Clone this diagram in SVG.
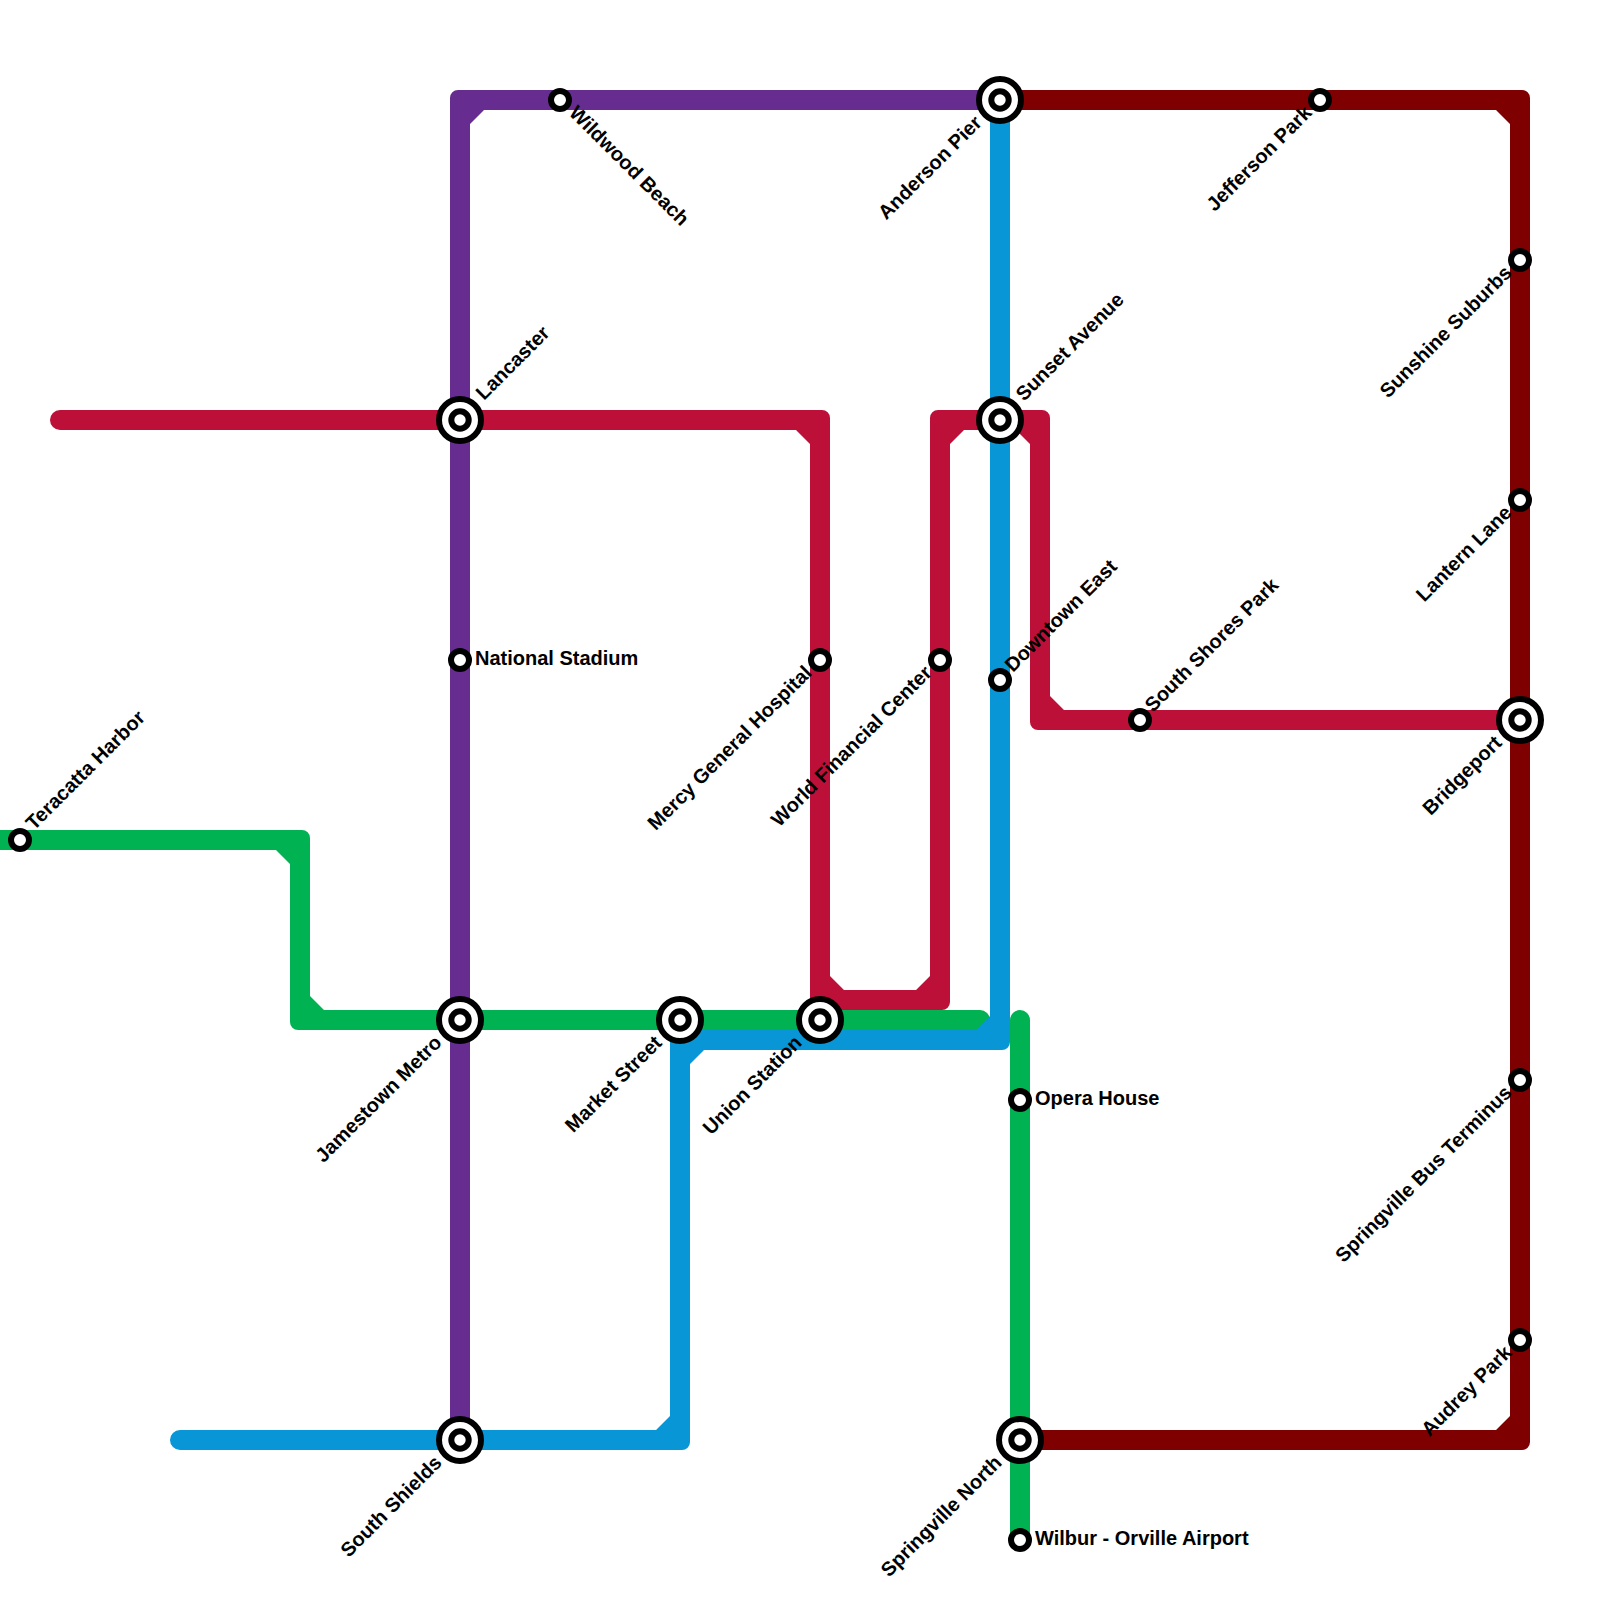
<svg xmlns="http://www.w3.org/2000/svg" width="1600" height="1600" viewBox="0 0 1600 1600">
<style>
text{font-family:"Liberation Sans",Arial,sans-serif;font-weight:700;font-size:20px;fill:#000}
.e{text-anchor:end}
.big,.in,.sm{fill:#fff;stroke:#000;stroke-width:6}
.big{r:21px}.in{r:8.7px}.sm{r:9px}
</style>
<rect width="1600" height="1600" fill="#fff"/>
<g id="connectors">
<path id="line-red" fill="#bd1038" d="M60 410H822A8 8 0 0 1 830 418V976L844 990H916L930 976V418A8 8 0 0 1 938 410H1042A8 8 0 0 1 1050 418V696L1064 710H1530V730H1038A8 8 0 0 1 1030 722V444L1016 430H964L950 444V1002A8 8 0 0 1 942 1010H810V444L796 430H60A10 10 0 0 1 60 410Z"/>
<path id="line-purple" fill="#662c90" d="M1000 90H458A8 8 0 0 0 450 98V1450H470V124L484 110H1000Z"/>
<path id="line-green" fill="#00b251" d="M0 830H302A8 8 0 0 1 310 838V996L324 1010H980A10 10 0 0 1 980 1030H298A8 8 0 0 1 290 1022V864L276 850H0Z"/>
<path id="line-green-2" fill="#00b251" d="M1010 1020A10 10 0 0 1 1030 1020V1540H1010Z"/>
<path id="line-maroon" fill="#7f0000" d="M1000 90H1522A8 8 0 0 1 1530 98V1442A8 8 0 0 1 1522 1450H1020V1430H1496L1510 1416V124L1496 110H1000Z"/>
<path id="line-blue" fill="#0896d7" d="M180 1430H656L670 1416V1038A8 8 0 0 1 678 1030H976L990 1016V100H1010V1042A8 8 0 0 1 1002 1050H704L690 1064V1442A8 8 0 0 1 682 1450H180A10 10 0 0 1 180 1430Z"/>
</g>
<g id="lancaster"><circle class="big" cx="460" cy="420"/><circle class="in" cx="460" cy="420"/><text transform="translate(484 401) rotate(-45)">Lancaster</text></g>
<g id="anderson-pier"><circle class="big" cx="1000" cy="100"/><circle class="in" cx="1000" cy="100"/><text class="e" transform="translate(978 119) rotate(-45)" dy="7">Anderson Pier</text></g>
<g id="sunset-avenue"><circle class="big" cx="1000" cy="420"/><circle class="in" cx="1000" cy="420"/><text transform="translate(1024 402) rotate(-45)">Sunset Avenue</text></g>
<g id="jamestown-metro"><circle class="big" cx="460" cy="1020"/><circle class="in" cx="460" cy="1020"/><text class="e" transform="translate(438 1039) rotate(-45)" dy="7">Jamestown Metro</text></g>
<g id="market-street"><circle class="big" cx="680" cy="1020"/><circle class="in" cx="680" cy="1020"/><text class="e" transform="translate(658 1039) rotate(-45)" dy="7">Market Street</text></g>
<g id="union-station"><circle class="big" cx="820" cy="1020"/><circle class="in" cx="820" cy="1020"/><text class="e" transform="translate(798 1039) rotate(-45)" dy="7">Union Station</text></g>
<g id="south-shields"><circle class="big" cx="460" cy="1440"/><circle class="in" cx="460" cy="1440"/><text class="e" transform="translate(438 1459) rotate(-45)" dy="7">South Shields</text></g>
<g id="springville-north"><circle class="big" cx="1020" cy="1440"/><circle class="in" cx="1020" cy="1440"/><text class="e" transform="translate(998 1459) rotate(-45)" dy="7">Springville North</text></g>
<g id="bridgeport"><circle class="big" cx="1520" cy="720"/><circle class="in" cx="1520" cy="720"/><text class="e" transform="translate(1498 739) rotate(-45)" dy="7">Bridgeport</text></g>
<g id="wildwood-beach"><circle class="sm" cx="560" cy="100"/><text transform="translate(568 114) rotate(45)">Wildwood Beach</text></g>
<g id="national-stadium"><circle class="sm" cx="460" cy="660"/><text x="475" y="665">National Stadium</text></g>
<g id="mercy-general-hospital"><circle class="sm" cx="820" cy="660"/><text class="e" transform="translate(808 669) rotate(-45)" dy="7">Mercy General Hospital</text></g>
<g id="world-financial-center"><circle class="sm" cx="940" cy="660"/><text class="e" transform="translate(928 669) rotate(-45)" dy="7">World Financial Center</text></g>
<g id="downtown-east"><circle class="sm" cx="1000" cy="680"/><text transform="translate(1013 673) rotate(-45)">Downtown East</text></g>
<g id="south-shores-park"><circle class="sm" cx="1140" cy="720"/><text transform="translate(1153 713) rotate(-45)">South Shores Park</text></g>
<g id="jefferson-park"><circle class="sm" cx="1320" cy="100"/><text class="e" transform="translate(1308 109) rotate(-45)" dy="7">Jefferson Park</text></g>
<g id="sunshine-suburbs"><circle class="sm" cx="1520" cy="260"/><text class="e" transform="translate(1508 269) rotate(-45)" dy="7">Sunshine Suburbs</text></g>
<g id="lantern-lane"><circle class="sm" cx="1520" cy="500"/><text class="e" transform="translate(1508 509) rotate(-45)" dy="7">Lantern Lane</text></g>
<g id="springville-bus-terminus"><circle class="sm" cx="1520" cy="1080"/><text class="e" transform="translate(1508 1089) rotate(-45)" dy="7">Springville Bus Terminus</text></g>
<g id="audrey-park"><circle class="sm" cx="1520" cy="1340"/><text class="e" transform="translate(1508 1349) rotate(-45)" dy="7">Audrey Park</text></g>
<g id="teracatta-harbor"><circle class="sm" cx="20" cy="840"/><text transform="translate(34 831) rotate(-45)">Teracatta Harbor</text></g>
<g id="opera-house"><circle class="sm" cx="1020" cy="1100"/><text x="1035" y="1105">Opera House</text></g>
<g id="wilbur-orville-airport"><circle class="sm" cx="1020" cy="1540"/><text x="1035" y="1545">Wilbur - Orville Airport</text></g>
</svg>
